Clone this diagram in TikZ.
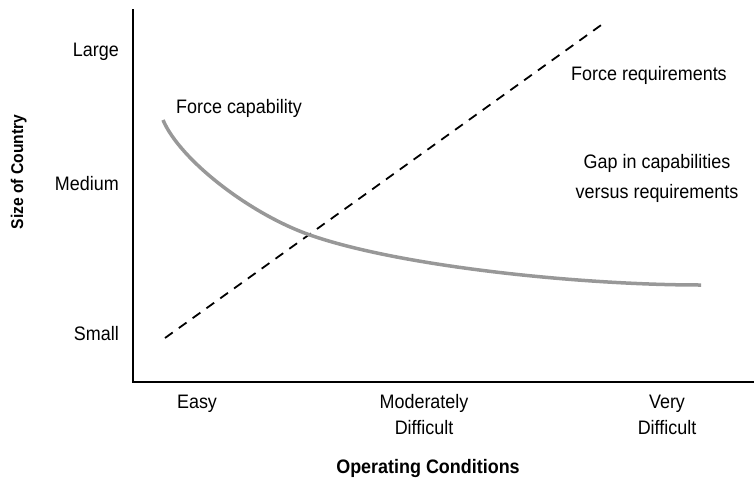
\documentclass[tikz,border=0pt]{standalone}
\usepackage{fontspec}
\setmainfont{Liberation Sans}[FakeStretch=0.92]
\usepackage{xcolor}
\usepackage{tikz}
\definecolor{capgray}{RGB}{152,152,152}
\tikzset{
  axisline/.style={line width=2.2pt},
  lbl/.style={inner sep=0pt, font=\fontsize{19.5}{26}\selectfont},
  gaplbl/.style={inner sep=0pt, align=center, font=\fontsize{19.5}{30}\selectfont},
  axtitle/.style={inner sep=0pt, font=\fontsize{19.5}{24}\selectfont\bfseries},
}

\begin{document}
\begin{tikzpicture}[x=1pt,y=-1pt]
\useasboundingbox (0,0) rectangle (754,477);
\coordinate (ytop) at (133,9);
\coordinate (origin) at (133,382);
\coordinate (xend) at (754,382);
\draw [axisline] (ytop) -- (origin) -- (xend);
\coordinate (reqlow) at (165,338);
\coordinate (reqhigh) at (604,23);
\draw [line width=1.8pt, dash pattern=on 9.5pt off 7.5pt] (reqlow) -- (reqhigh);
\coordinate (capstart) at (163,120);
\coordinate (capmid) at (310,235);
\coordinate (capend) at (701,285);
\draw [capgray, line width=3.5pt] (capstart) .. controls (180,160) and (250,214) .. (capmid)
  .. controls (400,266.5) and (580,285) .. (capend);
\node [lbl, anchor=base east] (large) at (119,56) {Large};
\node [lbl, anchor=base east] (medium) at (119,190) {Medium};
\node [lbl, anchor=base east] (small) at (119,340) {Small};
\node [lbl, anchor=base] (easy) at (197,408) {Easy};
\node [lbl, align=center] (moderate) at (424,414.6) {Moderately\\Difficult};
\node [lbl, align=center] (verydiff) at (667,414.5) {Very\\Difficult};
\node [lbl, anchor=base west] (caplabel) at (176,113) {Force capability};
\node [lbl, anchor=base west] (reqlabel) at (571,80) {Force requirements};
\node [gaplbl] (gaplabel) at (657,178) {Gap in capabilities\\versus requirements};
\node [axtitle, anchor=base] (xtitle) at (428,473) {Operating Conditions};
\node [axtitle, rotate=90, anchor=base, font=\fontsize{17}{22}\selectfont\bfseries] (ytitle) at (23,172) {Size of Country};
\end{tikzpicture}
\end{document}
